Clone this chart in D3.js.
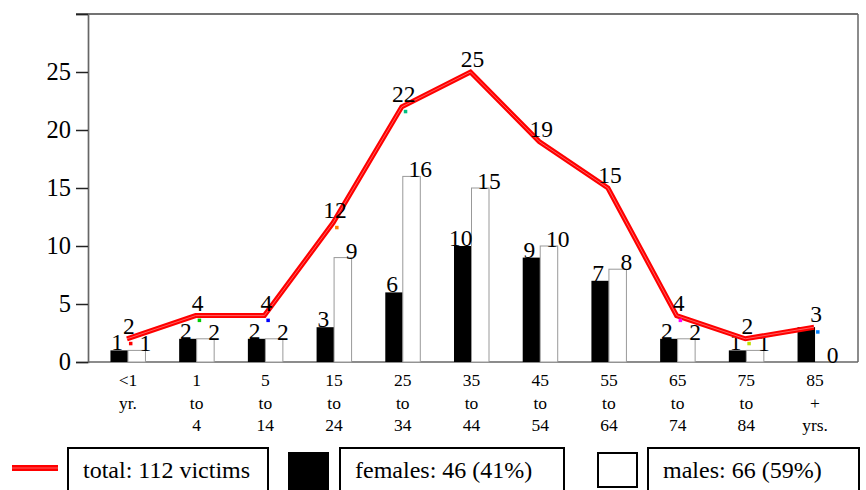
<!DOCTYPE html>
<html>
<head>
<meta charset="utf-8">
<script src="https://cdnjs.cloudflare.com/ajax/libs/d3/7.8.5/d3.min.js"></script>
<style>
  body { margin: 0; background: #fff; }
</style>
</head>
<body>
<script>
// age groups (each label is split into lines on "|")
var categories = ["<1|yr.", "1|to|4", "5|to|14", "15|to|24", "25|to|34", "35|to|44",
                  "45|to|54", "55|to|64", "65|to|74", "75|to|84", "85|+|yrs."];
var females = [1, 2, 2, 3, 6, 10, 9, 7, 2, 1, 3];
var males   = [1, 2, 2, 9, 16, 15, 10, 8, 2, 1, 0];
var totals  = [2, 4, 4, 12, 22, 25, 19, 15, 4, 2, 3];
// small point markers of the total series (null = hidden under the line)
var markerColors = ["#ff0000", "#00cc00", "#0000ff", "#ff8000", "#00c080", null,
                    null, null, "#ff00ff", "#c0e000", "#0080ff"];
var yTicks = [0, 5, 10, 15, 20, 25, 30];
var legendLabels = ["total: 112 victims", "females: 46 (41%)", "males: 66 (59%)"];

var SERIF = "'Liberation Serif', 'Times New Roman', Times, 'DejaVu Serif', serif";
var width = 866, height = 490;
var plot = {left: 88, right: 858, top: 14, bottom: 362};

var svg = d3.select("body")
	.append("svg")
	.attr("width", width)
	.attr("height", height)
	.style("font-family", SERIF);

var xScale = d3.scaleBand()
	.domain(d3.range(categories.length))
	.range([93.6, 849.4]);

var yScale = d3.scaleLinear()
	.domain([0, 30])
	.range([plot.bottom, plot.top]);

var barW = 17.5;
function cx(i) { return xScale(i) + xScale.bandwidth() / 2; }

// frame: top and right border
svg.append("line")
	.attr("x1", 76).attr("x2", plot.right)
	.attr("y1", plot.top).attr("y2", plot.top)
	.attr("stroke", "#444").attr("stroke-width", 1.5);
svg.append("line")
	.attr("x1", plot.right).attr("x2", plot.right)
	.attr("y1", plot.top).attr("y2", plot.bottom)
	.attr("stroke", "#666").attr("stroke-width", 1.5);

// y axis
var yAxis = svg.append("g")
	.attr("transform", "translate(" + plot.left + ",0)")
	.call(d3.axisLeft(yScale)
		.tickValues(yTicks)
		.tickSize(12)
		.tickPadding(5)
		.tickFormat(function(d) { return d === 30 ? "" : d; }));
yAxis.attr("font-family", null).attr("font-size", null);
yAxis.select(".domain").attr("stroke", "#666").attr("stroke-width", 1.7);
yAxis.selectAll(".tick line").attr("stroke", "#222").attr("stroke-width", 1.5);
yAxis.selectAll(".tick text")
	.style("font-family", SERIF)
	.style("font-size", "24.5px")
	.attr("fill", "#000");

// x axis line
svg.append("line")
	.attr("x1", plot.left).attr("x2", plot.right)
	.attr("y1", plot.bottom).attr("y2", plot.bottom)
	.attr("stroke", "#666").attr("stroke-width", 1.7);

// female bars
svg.append("g").selectAll("rect")
	.data(females)
	.enter().append("rect")
	.attr("x", function(d, i) { return cx(i) - barW; })
	.attr("y", function(d) { return yScale(d); })
	.attr("width", barW)
	.attr("height", function(d) { return plot.bottom - yScale(d); })
	.attr("fill", "#000");

// male bars
svg.append("g").selectAll("rect")
	.data(males)
	.enter().append("rect")
	.attr("x", function(d, i) { return cx(i); })
	.attr("y", function(d) { return yScale(d); })
	.attr("width", barW)
	.attr("height", function(d) { return plot.bottom - yScale(d); })
	.attr("fill", "#fff")
	.attr("stroke", function(d) { return d > 0 ? "#999" : "none"; })
	.attr("stroke-width", 1);

// bar value labels (female label hidden where it coincides with the total)
svg.append("g").selectAll("text")
	.data(females)
	.enter().append("text")
	.attr("x", function(d, i) { return cx(i) - barW / 2 - 2; })
	.attr("y", function(d) { return yScale(d); })
	.style("font-size", "23.5px")
	.attr("text-anchor", "middle")
	.text(function(d, i) { return d === totals[i] ? "" : d; });

svg.append("g").selectAll("text")
	.data(males)
	.enter().append("text")
	.attr("x", function(d, i) { return cx(i) + barW; })
	.attr("y", function(d) { return yScale(d) + 1; })
	.style("font-size", "23.5px")
	.attr("text-anchor", "middle")
	.text(function(d) { return d; });

// total line
var line = d3.line()
	.x(function(d, i) { return cx(i) - 1; })
	.y(function(d) { return yScale(d); });

svg.append("path")
	.datum(totals)
	.attr("d", line)
	.attr("fill", "none")
	.attr("stroke", "#ff0000")
	.attr("stroke-width", 5);
svg.append("path")
	.datum(totals)
	.attr("d", line)
	.attr("fill", "none")
	.attr("stroke", "#ff6060")
	.attr("stroke-width", 1);

// point markers
totals.forEach(function(d, i) {
	if (!markerColors[i]) return;
	svg.append("rect")
		.attr("x", cx(i) + 1)
		.attr("y", yScale(d) + 3)
		.attr("width", 3.5)
		.attr("height", 3.5)
		.attr("fill", markerColors[i]);
});

// total labels
svg.append("g").selectAll("text")
	.data(totals)
	.enter().append("text")
	.attr("x", function(d, i) { return cx(i) + 1; })
	.attr("y", function(d) { return yScale(d) - 5; })
	.style("font-size", "23.5px")
	.attr("text-anchor", "middle")
	.text(function(d) { return d; });

// category labels
var cat = svg.append("g").selectAll("text")
	.data(categories)
	.enter().append("text")
	.style("font-size", "17.5px")
	.attr("text-anchor", "middle");
cat.each(function(d, i) {
	var t = d3.select(this);
	d.split("|").forEach(function(s, j) {
		t.append("tspan")
			.attr("x", cx(i))
			.attr("y", 386 + j * 22.5)
			.text(s);
	});
});

// legend
var lg = svg.append("g");
lg.append("line")
	.attr("x1", 12).attr("x2", 58)
	.attr("y1", 468).attr("y2", 468)
	.attr("stroke", "#ff0000").attr("stroke-width", 6);
lg.append("line")
	.attr("x1", 12).attr("x2", 58)
	.attr("y1", 468).attr("y2", 468)
	.attr("stroke", "#ff6060").attr("stroke-width", 1.2);

lg.append("rect")
	.attr("x", 288).attr("y", 452)
	.attr("width", 41).attr("height", 40)
	.attr("fill", "#000");
lg.append("rect")
	.attr("x", 598).attr("y", 453)
	.attr("width", 39).attr("height", 34)
	.attr("fill", "#fff")
	.attr("stroke", "#000").attr("stroke-width", 2);

var boxes = [[68, 268], [340, 564], [648, 859]];
boxes.forEach(function(b, i) {
	lg.append("rect")
		.attr("x", b[0]).attr("y", 448)
		.attr("width", b[1] - b[0]).attr("height", 60)
		.attr("fill", "none")
		.attr("stroke", "#000").attr("stroke-width", 2);
	lg.append("text")
		.attr("x", b[0] + 15)
		.attr("y", 478)
		.style("font-size", "24px")
		.text(legendLabels[i]);
});
</script>
</body>
</html>
